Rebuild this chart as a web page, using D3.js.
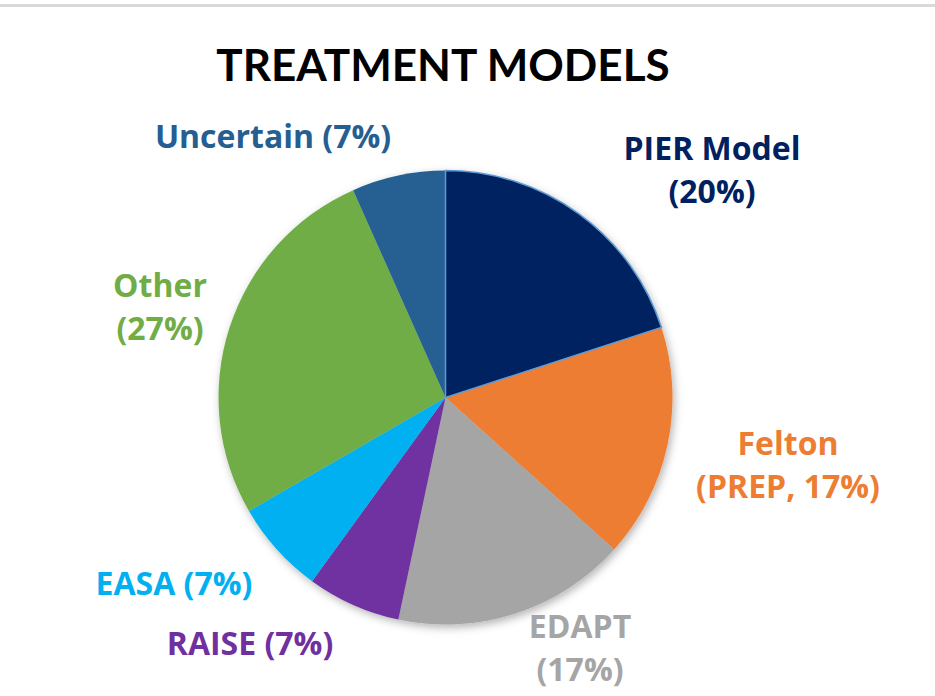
<!DOCTYPE html>
<html>
<head>
<meta charset="utf-8">
<script src="https://cdn.jsdelivr.net/npm/d3@7"></script>
<style>
  html, body { margin: 0; padding: 0; background: #fff; }
  svg { display: block; }
  text { font-family: Lato, "Open Sans", sans-serif; font-weight: 700; }
  .lbl text { font-family: "Open Sans", Lato, sans-serif; font-weight: 700; }
</style>
</head>
<body>
<svg id="chart" width="935" height="696"></svg>
<script>
// ---- data ----
const categories = ["PIER Model", "Felton", "EDAPT", "RAISE", "EASA", "Other", "Uncertain"];
const counts = [6, 5, 5, 2, 2, 8, 2];
const labelLines = [
  ["PIER Model", "(20%)"],
  ["Felton", "(PREP, 17%)"],
  ["EDAPT", "(17%)"],
  ["RAISE (7%)"],
  ["EASA (7%)"],
  ["Other", "(27%)"],
  ["Uncertain (7%)"]
];
const sliceColors = ["#002060", "#ED7D31", "#A5A5A5", "#7030A0", "#00B0F0", "#70AD47", "#255E91"];
const titleText = "TREATMENT MODELS";

// ---- layout (label anchor centres, first baseline) ----
const labelPos = [
  [712, 160], [788, 455], [580, 638], [250, 655], [174, 595], [160, 297], [273, 148]
];
const lineGap = 43;

const svg = d3.select("#chart");
const W = 935, H = 696;

// top border line
svg.append("rect").attr("x", 0).attr("y", 4).attr("width", W).attr("height", 3).attr("fill", "#d9d9d9");

// title
svg.append("text")
  .attr("x", 443).attr("y", 81)
  .attr("text-anchor", "middle")
  .attr("font-size", 44)
  .attr("fill", "#000")
  .text(titleText);

// shadow filter
const defs = svg.append("defs");
const f = defs.append("filter").attr("id", "shadow").attr("x", "-20%").attr("y", "-20%").attr("width", "140%").attr("height", "140%");
f.append("feDropShadow").attr("dx", 2).attr("dy", 3).attr("stdDeviation", 4).attr("flood-color", "#000").attr("flood-opacity", 0.3);

const cx = 445.5, cy = 397.5, R = 227;
const data = categories.map((c, i) => ({ name: c, value: counts[i], i }));
const pie = d3.pie().value(d => d.value).sort(null);
const arc = d3.arc().innerRadius(0).outerRadius(R);
const color = d3.scaleOrdinal().domain(categories).range(sliceColors);

const g = svg.append("g").attr("transform", `translate(${cx},${cy})`);
const arcs = pie(data);
g.append("g").attr("filter", "url(#shadow)")
  .selectAll("path").data(arcs).join("path")
  .attr("d", arc)
  .attr("fill", d => color(d.data.name));

// light blue outline on the first slice (selection look)
g.append("path").datum(arcs[0])
  .attr("d", arc)
  .attr("fill", "none")
  .attr("stroke", "#5B9BD5")
  .attr("stroke-width", 1.5);

// labels
const lbl = svg.append("g").attr("class", "lbl");
data.forEach((d, i) => {
  const t = lbl.append("text")
    .attr("text-anchor", "middle")
    .attr("font-size", 32)
    .attr("fill", color(d.name));
  labelLines[i].forEach((line, j) => {
    t.append("tspan").attr("x", labelPos[i][0]).attr("y", labelPos[i][1] + j * lineGap).text(line);
  });
});
</script>
</body>
</html>
